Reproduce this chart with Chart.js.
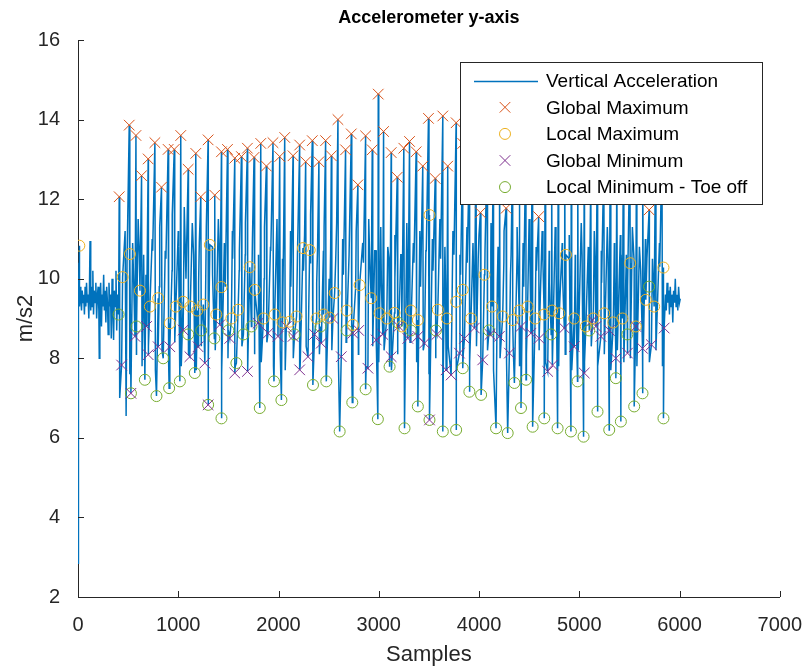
<!DOCTYPE html>
<html>
<head>
<meta charset="utf-8">
<script src="https://cdn.jsdelivr.net/npm/chart.js@4.4.0/dist/chart.umd.min.js"></script>
<style>
  html, body { margin: 0; padding: 0; background: #fff; }
  #wrap { width: 810px; height: 670px; }
</style>
</head>
<body>
<div id="wrap"><canvas id="chart" width="810" height="670"></canvas></div>
<script>
// [sample, m/s2]

// trace vertices that carry no marker: settling noise at the start, the drop after each
// heel-strike spike, ripple in the dark band, unmarked spikes, tail noise
const traceStart = [
    [0, 2.85], [3, 5.9], [6, 9.4], [10, 10.4], [16, 9.3], [22, 9.8], [28, 9.5], [35, 9.2], [42, 9.7], [50, 9.4],
    [57, 9.6], [64, 9.1], [71, 9.8], [78, 9.3], [85, 9.9], [92, 9.4], [100, 9.6], [108, 9.0], [114, 9.7], [120, 10.95],
    [127, 9.2], [134, 9.8], [141, 9.3], [148, 10.2], [155, 9.1], [162, 9.7], [170, 9.4], [178, 9.9], [186, 9.0], [194, 9.6],
    [201, 9.8], [208, 9.2], [212, 8.0], [218, 9.5], [226, 9.9], [234, 8.8], [241, 9.6], [248, 9.3], [256, 10.1], [263, 9.2],
    [270, 9.7], [278, 8.9], [286, 9.8], [294, 9.4], [301, 8.6], [309, 9.9], [317, 9.3], [325, 9.6], [332, 8.5], [340, 10.0],
    [348, 9.2], [355, 8.46], [363, 9.7], [371, 9.3], [379, 10.2], [386, 8.7], [393, 9.6]
];
const traceDips = [
    [416, 7.0], [516, 7.6], [583, 8.1], [639, 7.8], [705, 8.3], [772, 7.7], [838, 8.2], [904, 7.9], [965, 8.4], [1030, 7.8],
    [1104, 8.1], [1180, 7.7], [1230, 8.3], [1303, 7.9], [1369, 8.2], [1436, 7.6], [1496, 8.0], [1569, 7.8], [1635, 8.3], [1695, 7.7],
    [1761, 8.1], [1828, 7.9], [1884, 8.4], [1950, 7.8], [2017, 8.2], [2067, 7.7], [2150, 8.0], [2216, 7.8], [2276, 8.3], [2342, 7.9],
    [2408, 8.1], [2475, 7.6], [2532, 8.2], [2598, 7.9], [2674, 8.4], [2731, 7.7], [2797, 8.1], [2874, 7.8], [2940, 8.3], [3000, 7.9],
    [3053, 8.2], [3129, 7.7], [3189, 8.1], [3255, 7.8], [3312, 8.4], [3378, 7.9], [3444, 8.2], [3501, 7.6], [3568, 8.0], [3644, 7.8],
    [3693, 8.3], [3777, 7.7], [3843, 8.1], [3909, 7.9], [3975, 8.3], [4019, 7.8], [4085, 8.2], [4145, 7.7], [4210, 8.0], [4275, 7.9],
    [4341, 8.3], [4407, 7.8], [4473, 8.1], [4535, 7.7], [4600, 8.2], [4665, 7.9], [4730, 8.4], [4795, 7.8], [4860, 8.1], [4925, 7.7],
    [4990, 8.2], [5055, 7.9], [5120, 8.3], [5185, 7.8], [5250, 8.1], [5315, 7.7], [5380, 8.2], [5445, 7.9], [5510, 8.0], [5575, 7.8],
    [5640, 8.3], [5702, 7.9], [5765, 8.2], [5830, 7.8]
];
const traceRipple = [
    [489, 10.4], [556, 9.9], [612, 10.6], [678, 10.1], [745, 10.7], [811, 9.8], [877, 10.5], [938, 10.2], [1003, 10.8], [1077, 10.0],
    [1153, 10.6], [1203, 9.9], [1276, 10.4], [1342, 10.1], [1409, 10.7], [1469, 9.8], [1542, 10.5], [1608, 10.2], [1668, 10.6], [1734, 9.9],
    [1801, 10.4], [1857, 10.0], [1923, 10.7], [1990, 10.1], [2040, 10.5], [2123, 9.8], [2189, 10.6], [2249, 10.2], [2315, 10.4], [2381, 9.9],
    [2448, 10.7], [2505, 10.0], [2571, 10.5], [2647, 10.1], [2704, 10.6], [2770, 9.8], [2847, 10.4], [2913, 10.2], [2973, 10.7], [3026, 9.9],
    [3102, 10.5], [3162, 10.0], [3228, 10.6], [3285, 10.1], [3351, 10.4], [3417, 9.8], [3474, 10.7], [3541, 10.2], [3617, 10.5], [3666, 9.9],
    [3750, 10.6], [3816, 10.1], [3882, 10.4], [3948, 9.8], [3992, 10.5], [4058, 10.2], [4118, 10.7], [4183, 9.9], [4248, 10.4], [4314, 10.1],
    [4380, 10.6], [4446, 9.8], [4508, 10.5], [4573, 10.2], [4638, 10.4], [4703, 9.9], [4768, 10.7], [4833, 10.1], [4898, 10.5], [4963, 9.8],
    [5028, 10.6], [5093, 10.2], [5158, 10.4], [5223, 9.9], [5288, 10.5], [5353, 10.1], [5418, 10.6], [5483, 9.8], [5548, 10.4], [5613, 10.2],
    [5675, 10.5], [5738, 9.9], [5803, 10.3]
];
const traceSpikes = [
    [470, 11.2], [480, 6.55], [545, 10.9], [600, 11.5], [655, 10.6], [740, 11.0], [815, 11.3], [870, 10.7], [940, 11.6], [1000, 11.2],
    [1060, 11.8], [1140, 11.4], [1210, 10.9], [1280, 11.3], [1340, 10.8], [1400, 11.5], [1460, 10.9], [1540, 11.2], [1610, 10.7], [1670, 11.4],
    [1740, 11.0], [1800, 10.6], [1860, 11.3], [1920, 10.8], [1985, 11.5], [2050, 10.9], [2120, 11.2], [2190, 10.6], [2260, 11.1], [2320, 11.6],
    [2390, 10.8], [2455, 11.3], [2520, 10.7], [2580, 11.4], [2640, 11.0], [2710, 10.6], [2775, 11.2], [2840, 10.9], [2900, 11.5], [2960, 10.7],
    [3020, 11.3], [3090, 10.8], [3160, 11.1], [3220, 10.6], [3280, 11.4], [3345, 10.9], [3410, 11.2], [3470, 10.7], [3535, 11.0], [3610, 11.5],
    [3660, 10.8], [3740, 11.2], [3810, 10.6], [3880, 11.3], [3940, 10.9], [4000, 11.1], [4060, 10.7], [4120, 11.4], [4190, 10.8], [4250, 11.2],
    [4320, 10.6], [4380, 11.3], [4440, 10.9], [4500, 11.5], [4570, 10.8], [4630, 11.2], [4700, 10.7], [4760, 11.3], [4830, 10.9], [4900, 11.1],
    [4960, 10.6], [5020, 11.4], [5090, 10.8], [5150, 11.2], [5220, 10.7], [5280, 11.3], [5350, 10.9], [5410, 11.1], [5470, 10.6], [5530, 11.3],
    [5600, 10.8], [5660, 11.0], [5730, 10.5], [5800, 10.9]
];
const traceEnd = [
    [5860, 9.6], [5868, 9.2], [5876, 9.9], [5884, 9.4], [5892, 9.7], [5900, 9.1], [5908, 9.8], [5916, 9.3], [5925, 9.6], [5933, 8.9],
    [5941, 9.7], [5950, 9.4], [5958, 10.0], [5966, 9.3], [5975, 9.6], [5983, 9.2], [5991, 9.8], [6000, 9.4], [6008, 9.5]
];

// detected extrema (some global maxima sit behind the legend box)
const globalMax = [
    [411, 12.06], [511, 13.86], [578, 13.6], [634, 12.59], [700, 13.01], [767, 13.42], [833, 12.3], [899, 13.25], [960, 13.25], [1025, 13.6],
    [1099, 12.75], [1175, 13.15], [1225, 12.06], [1298, 13.49], [1364, 12.1], [1431, 13.19], [1491, 13.25], [1564, 13.03], [1630, 13.07], [1690, 13.28],
    [1756, 13.05], [1823, 13.4], [1879, 12.83], [1945, 13.42], [2012, 13.07], [2062, 13.55], [2145, 13.09], [2211, 13.36], [2271, 12.94], [2337, 13.47],
    [2403, 12.94], [2470, 13.47], [2527, 13.09], [2593, 14.0], [2669, 13.24], [2726, 13.64], [2792, 12.36], [2869, 13.59], [2935, 13.24], [2995, 14.64],
    [3048, 13.7], [3124, 13.17], [3184, 12.55], [3250, 13.28], [3307, 13.45], [3373, 13.19], [3439, 12.83], [3496, 14.03], [3563, 12.52], [3639, 14.09],
    [3688, 12.83], [3772, 13.92], [3838, 13.4], [3904, 13.1], [3970, 13.6], [4014, 11.66], [4080, 13.2], [4140, 12.9], [4205, 13.5], [4270, 11.77],
    [4336, 13.3], [4402, 12.8], [4468, 13.6], [4530, 13.1], [4595, 11.56], [4660, 13.4], [4725, 12.9], [4790, 13.3], [4855, 13.7], [4920, 12.8],
    [4985, 13.2], [5050, 13.5], [5115, 12.7], [5180, 13.3], [5245, 13.0], [5310, 13.6], [5375, 12.9], [5440, 13.2], [5505, 13.4], [5570, 12.8],
    [5635, 13.1], [5697, 11.73], [5760, 12.9], [5825, 13.3]
];
const localMax = [
    [13, 10.83], [445, 10.04], [518, 10.62], [618, 9.7], [717, 9.3], [800, 9.51], [916, 8.88], [976, 9.3], [1049, 9.42], [1120, 9.3],
    [1190, 9.2], [1250, 9.35], [1315, 10.85], [1380, 9.1], [1431, 9.79], [1530, 9.0], [1597, 9.22], [1713, 10.29], [1763, 9.72], [1850, 9.0],
    [1962, 9.1], [2040, 8.9], [2112, 8.92], [2180, 9.05], [2244, 10.77], [2311, 10.72], [2380, 9.0], [2450, 9.1], [2510, 9.02], [2560, 9.64],
    [2680, 9.2], [2742, 8.84], [2809, 9.84], [2925, 9.51], [3008, 9.13], [3080, 9.0], [3157, 9.14], [3230, 8.8], [3320, 9.2], [3390, 8.96],
    [3506, 11.6], [3589, 9.22], [3680, 9.0], [3772, 9.42], [3838, 9.72], [3920, 9.0], [4054, 10.1], [4130, 9.3], [4236, 9.05], [4336, 8.96],
    [4400, 9.2], [4485, 9.3], [4560, 9.0], [4650, 9.1], [4730, 9.2], [4801, 9.13], [4867, 10.6], [4950, 9.0], [5066, 8.8], [5140, 9.0],
    [5249, 9.13], [5340, 8.9], [5431, 9.0], [5508, 10.39], [5564, 8.8], [5664, 9.47], [5747, 9.3], [5840, 10.28]
];
const globalMin = [
    [435, 7.83], [528, 7.12], [568, 8.55], [684, 8.8], [700, 8.09], [800, 8.29], [916, 8.29], [1049, 8.71], [1116, 8.04], [1198, 8.29],
    [1265, 7.88], [1298, 6.83], [1414, 8.84], [1514, 8.5], [1564, 7.63], [1690, 7.67], [1796, 8.88], [1896, 8.63], [1995, 8.55], [2078, 8.8],
    [2145, 8.55], [2211, 7.71], [2294, 8.04], [2360, 8.6], [2427, 8.38], [2543, 9.0], [2626, 8.04], [2742, 8.63], [2800, 8.7], [2892, 7.75],
    [2975, 8.46], [3040, 8.6], [3124, 8.04], [3200, 8.8], [3290, 8.5], [3390, 8.55], [3456, 8.38], [3506, 6.45], [3580, 8.6], [3672, 7.71],
    [3722, 7.58], [3805, 8.13], [3855, 8.5], [3954, 8.76], [4037, 7.96], [4110, 8.6], [4203, 8.55], [4303, 8.13], [4419, 8.8], [4518, 8.63],
    [4600, 8.5], [4685, 7.67], [4734, 7.83], [4851, 8.76], [4950, 8.29], [5050, 7.63], [5133, 8.96], [5166, 8.8], [5216, 8.55], [5300, 8.7],
    [5365, 8.0], [5481, 8.13], [5564, 8.8], [5631, 8.25], [5720, 8.34], [5847, 8.76]
];
const localMin = [
    [405, 9.1], [528, 7.12], [584, 8.8], [667, 7.46], [783, 7.05], [850, 8.0], [909, 7.25], [1016, 7.42], [1100, 8.6], [1165, 7.63],
    [1230, 8.7], [1298, 6.83], [1360, 8.5], [1431, 6.49], [1500, 8.7], [1580, 7.88], [1650, 8.6], [1730, 8.8], [1813, 6.75], [1955, 7.42],
    [2029, 6.95], [2160, 8.6], [2344, 7.33], [2420, 8.8], [2477, 7.42], [2610, 6.16], [2680, 8.7], [2736, 6.89], [2869, 7.22], [2991, 6.47],
    [3108, 7.79], [3190, 8.9], [3257, 6.24], [3320, 8.7], [3390, 6.79], [3506, 6.45], [3570, 8.7], [3639, 6.16], [3772, 6.2], [3838, 7.75],
    [3904, 7.16], [4021, 7.08], [4100, 8.7], [4170, 6.24], [4286, 6.12], [4353, 7.38], [4419, 6.75], [4469, 7.46], [4535, 6.28], [4651, 6.49],
    [4720, 8.6], [4784, 6.24], [4917, 6.16], [4983, 7.42], [5043, 6.03], [5100, 8.7], [5182, 6.66], [5299, 6.2], [5365, 7.5], [5415, 6.41],
    [5480, 8.6], [5548, 6.79], [5631, 7.12], [5697, 9.8], [5840, 6.49]
];

const X_TICKS = [0, 1000, 2000, 3000, 4000, 5000, 6000, 7000];
const Y_TICKS = [2, 4, 6, 8, 10, 12, 14, 16];

const FONT = "'Liberation Sans', Arial, Helvetica, sans-serif";
const AXIS_COLOR = "#262626";

const toPoints = pairs => pairs.map(([x, y]) => ({ x, y }));

// the extrema lie on the trace, so the line runs through them as well
const trace = toPoints([
    ...traceStart, ...traceDips, ...traceRipple, ...traceSpikes, ...traceEnd,
    ...globalMax, ...localMax, ...globalMin, ...localMin
]).sort((a, b) => a.x - b.x);

function markerSet(label, pairs, color, style) {
    return {
        label,
        data: toPoints(pairs),
        showLine: false,
        pointStyle: style,
        pointRadius: style === "crossRot" ? 7.5 : 5.5,
        pointHoverRadius: 0,
        pointBorderColor: color,
        pointBackgroundColor: "rgba(0,0,0,0)",
        pointBorderWidth: 1,
        borderColor: color,
        order: 1
    };
}

// MATLAB style ticks pointing into the axes
const inwardTicks = {
    id: "inwardTicks",
    afterDraw(chart) {
        const { ctx, chartArea, scales } = chart;
        ctx.save();
        ctx.strokeStyle = AXIS_COLOR;
        ctx.lineWidth = 1;
        ctx.beginPath();
        scales.x.ticks.forEach(t => {
            const px = Math.round(scales.x.getPixelForValue(t.value)) + 0.5;
            ctx.moveTo(px, chartArea.bottom);
            ctx.lineTo(px, chartArea.bottom - 6);
        });
        scales.y.ticks.forEach(t => {
            const py = Math.round(scales.y.getPixelForValue(t.value)) + 0.5;
            ctx.moveTo(chartArea.left, py);
            ctx.lineTo(chartArea.left + 6, py);
        });
        ctx.stroke();
        ctx.restore();
    }
};

// opaque boxed legend drawn over the data, like the MATLAB one
const boxLegend = {
    id: "boxLegend",
    afterDatasetsDraw(chart) {
        const { ctx } = chart;
        const left = 460, top = 62, width = 302, height = 142;
        const firstRow = 80.7, rowStep = 26.6;
        ctx.save();
        ctx.fillStyle = "#fff";
        ctx.fillRect(left, top, width, height);
        ctx.strokeStyle = AXIS_COLOR;
        ctx.lineWidth = 1;
        ctx.strokeRect(left + 0.5, top + 0.5, width, height);

        ctx.font = `19px ${FONT}`;
        ctx.textBaseline = "middle";
        ctx.textAlign = "left";
        chart.data.datasets.forEach((ds, i) => {
            const cy = firstRow + i * rowStep;
            if (ds.showLine) {
                ctx.strokeStyle = ds.borderColor;
                ctx.lineWidth = 1.5;
                ctx.beginPath();
                ctx.moveTo(474, Math.round(cy) + 0.5);
                ctx.lineTo(538, Math.round(cy) + 0.5);
                ctx.stroke();
            } else {
                ctx.fillStyle = "rgba(0,0,0,0)";
                ctx.strokeStyle = ds.pointBorderColor;
                ctx.lineWidth = 1;
                Chart.helpers.drawPoint(ctx, {
                    pointStyle: ds.pointStyle,
                    radius: ds.pointRadius,
                    borderWidth: 1
                }, 505, cy);
            }
            ctx.fillStyle = "#000";
            ctx.fillText(ds.label, 546, cy + 1);
        });
        ctx.restore();
    }
};

new Chart(document.getElementById("chart"), {
    type: "scatter",
    data: {
        datasets: [
            {
                label: "Vertical Acceleration",
                data: trace,
                showLine: true,
                borderColor: "#0072BD",
                borderWidth: 1.5,
                pointRadius: 0,
                pointHoverRadius: 0,
                tension: 0,
                order: 10
            },
            markerSet("Global Maximum", globalMax, "#D95319", "crossRot"),
            markerSet("Local Maximum", localMax, "#EDB120", "circle"),
            markerSet("Global Minimum", globalMin, "#7E2F8E", "crossRot"),
            markerSet("Local Minimum - Toe off", localMin, "#77AC30", "circle")
        ]
    },
    options: {
        responsive: false,
        animation: false,
        events: [],
        layout: { padding: { left: 0, right: 25, top: 0, bottom: 0 } },
        plugins: {
            legend: { display: false },
            tooltip: { enabled: false },
            title: {
                display: true,
                fullSize: false,
                text: "Accelerometer y-axis",
                color: "#000",
                font: { family: FONT, size: 18, weight: "bold" },
                padding: { top: 7, bottom: 11.4 }
            }
        },
        scales: {
            x: {
                type: "linear",
                min: 0,
                max: 7000,
                afterBuildTicks: scale => { scale.ticks = X_TICKS.map(value => ({ value })); },
                afterFit: scale => { scale.height = 73; },
                grid: { display: false },
                border: { display: true, color: AXIS_COLOR, width: 1 },
                ticks: {
                    color: AXIS_COLOR,
                    padding: 8,
                    maxRotation: 0,
                    font: { family: FONT, size: 20 },
                    callback: value => String(value)
                },
                title: {
                    display: true,
                    text: "Samples",
                    color: AXIS_COLOR,
                    font: { family: FONT, size: 22 },
                    padding: { top: 0, bottom: 2 }
                }
            },
            y: {
                type: "linear",
                min: 2,
                max: 16,
                afterBuildTicks: scale => { scale.ticks = Y_TICKS.map(value => ({ value })); },
                afterFit: scale => { scale.width = 78; },
                grid: { display: false },
                border: { display: true, color: AXIS_COLOR, width: 1 },
                ticks: {
                    color: AXIS_COLOR,
                    padding: 10,
                    font: { family: FONT, size: 20 },
                    callback: value => String(value)
                },
                title: {
                    display: true,
                    text: "m/s2",
                    color: AXIS_COLOR,
                    font: { family: FONT, size: 22 },
                    padding: { top: 13, bottom: 0 }
                }
            }
        }
    },
    plugins: [inwardTicks, boxLegend]
});
</script>
</body>
</html>
